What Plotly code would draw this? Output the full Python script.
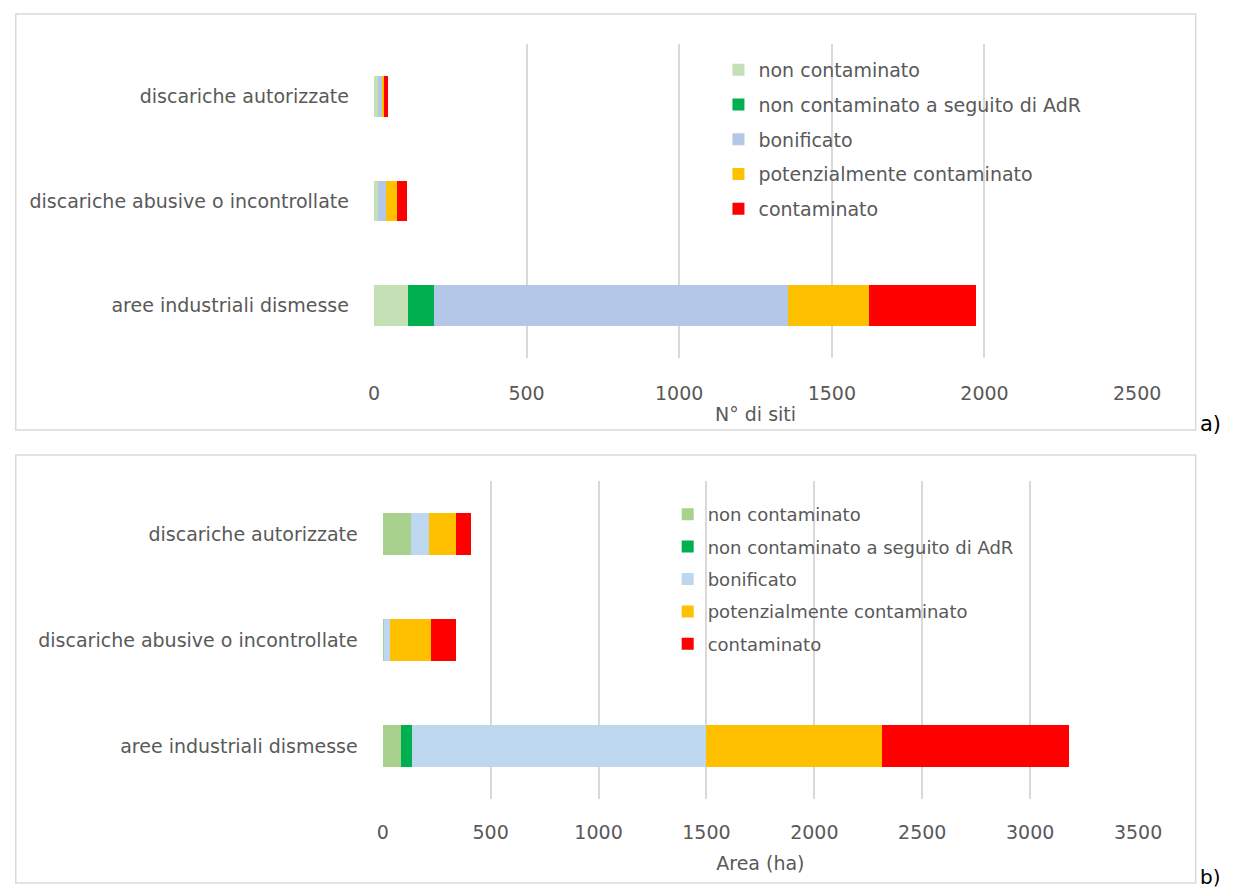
import plotly.graph_objects as go

# Categories (top to bottom as displayed)
categories = ["discariche autorizzate", "discariche abusive o incontrollate", "aree industriali dismesse"]

series_names = [
    "non contaminato",
    "non contaminato a seguito di AdR",
    "bonificato",
    "potenzialmente contaminato",
    "contaminato",
]

# a) number of sites per status
siti_non_contaminato = [14, 13, 112]
siti_non_contaminato_adr = [0, 0, 86]
siti_bonificato = [11, 25, 1158]
siti_potenzialmente = [8, 36, 265]
siti_contaminato = [13, 34, 351]

# b) area (ha) per status
area_non_contaminato = [132, 5, 86]
area_non_contaminato_adr = [0, 0, 52]
area_bonificato = [82, 31, 1358]
area_potenzialmente = [127, 186, 816]
area_contaminato = [70, 118, 867]

x_ticks_a = [0, 500, 1000, 1500, 2000, 2500]
x_ticks_b = [0, 500, 1000, 1500, 2000, 2500, 3000, 3500]

colors_a = ["#C5E0B4", "#00B050", "#B4C7E7", "#FFC000", "#FF0000"]
colors_b = ["#A9D18E", "#00B050", "#BDD7EE", "#FFC000", "#FF0000"]

W, H = 1247, 888
FONT = "DejaVu Sans"
GRAY = "#595959"
GRID = "#D9D9D9"

def px_x(v):
    return v / W

def px_y(v):
    return 1 - v / H

fig = go.Figure()

series_a = [siti_non_contaminato, siti_non_contaminato_adr, siti_bonificato,
            siti_potenzialmente, siti_contaminato]
series_b = [area_non_contaminato, area_non_contaminato_adr, area_bonificato,
            area_potenzialmente, area_contaminato]

for name, vals, col in zip(series_names, series_a, colors_a):
    fig.add_trace(go.Bar(
        y=categories, x=vals, name=name, orientation="h",
        marker=dict(color=col, line=dict(width=0)),
        xaxis="x", yaxis="y", legend="legend", legendgroup="a_" + name,
    ))

for name, vals, col in zip(series_names, series_b, colors_b):
    fig.add_trace(go.Bar(
        y=categories, x=vals, name=name, orientation="h",
        marker=dict(color=col, line=dict(width=0)),
        xaxis="x2", yaxis="y2", legend="legend2", legendgroup="b_" + name,
    ))

axis_font = dict(family=FONT, size=19, color=GRAY)
cat_order = list(reversed(categories))

fig.update_layout(
    width=W, height=H,
    margin=dict(l=0, r=0, t=0, b=0),
    paper_bgcolor="white", plot_bgcolor="white",
    barmode="stack", bargap=0.61,
    font=dict(family=FONT, size=19, color=GRAY),
    xaxis=dict(
        domain=[px_x(377), px_x(1159)], anchor="y",
        range=[0, 2500], tickvals=x_ticks_a, showgrid=True, gridcolor=GRID,
        gridwidth=2, zeroline=False, showline=False, ticks="",
        tickfont=axis_font, ticklabelstandoff=22,
        title=dict(text="N° di siti", font=axis_font, standoff=4),
    ),
    yaxis=dict(
        domain=[px_y(358), px_y(44)], anchor="x",
        categoryorder="array", categoryarray=cat_order,
        showgrid=False, zeroline=False, showline=False, ticks="",
        tickfont=axis_font, ticklabelstandoff=24,
    ),
    xaxis2=dict(
        domain=[px_x(386), px_x(1160)], anchor="y2",
        range=[0, 3500], tickvals=x_ticks_b, showgrid=True, gridcolor=GRID,
        gridwidth=2, zeroline=False, showline=False, ticks="",
        tickfont=axis_font, ticklabelstandoff=20,
        title=dict(text="Area (ha)", font=axis_font, standoff=14),
    ),
    yaxis2=dict(
        domain=[px_y(799), px_y(481)], anchor="x2",
        categoryorder="array", categoryarray=cat_order,
        showgrid=False, zeroline=False, showline=False, ticks="",
        tickfont=axis_font, ticklabelstandoff=24,
    ),
    legend=dict(
        x=px_x(730), y=px_y(51), xanchor="left", yanchor="top",
        traceorder="grouped", tracegroupgap=7,
        font=dict(family=FONT, size=19, color=GRAY),
        bgcolor="rgba(0,0,0,0)",
    ),
    legend2=dict(
        x=px_x(678), y=px_y(496), xanchor="left", yanchor="top",
        traceorder="grouped", tracegroupgap=6,
        font=dict(family=FONT, size=18, color=GRAY),
        bgcolor="rgba(0,0,0,0)",
    ),
    showlegend=True,
)

# Chart-area frames
fig.add_shape(type="rect", xref="paper", yref="paper",
              x0=px_x(10), x1=px_x(1219), y0=px_y(430), y1=px_y(14),
              line=dict(color=GRID, width=1.5), fillcolor="rgba(0,0,0,0)", layer="below")
fig.add_shape(type="rect", xref="paper", yref="paper",
              x0=px_x(10), x1=px_x(1219), y0=px_y(883), y1=px_y(455),
              line=dict(color=GRID, width=1.5), fillcolor="rgba(0,0,0,0)", layer="below")

# Panel labels
fig.add_annotation(text="a)", xref="paper", yref="paper", x=px_x(1221), y=px_y(424),
                   xanchor="left", yanchor="middle", showarrow=False,
                   font=dict(family=FONT, size=21, color="black"))
fig.add_annotation(text="b)", xref="paper", yref="paper", x=px_x(1221), y=px_y(877),
                   xanchor="left", yanchor="middle", showarrow=False,
                   font=dict(family=FONT, size=20, color="black"))

fig.write_html("out.html")
